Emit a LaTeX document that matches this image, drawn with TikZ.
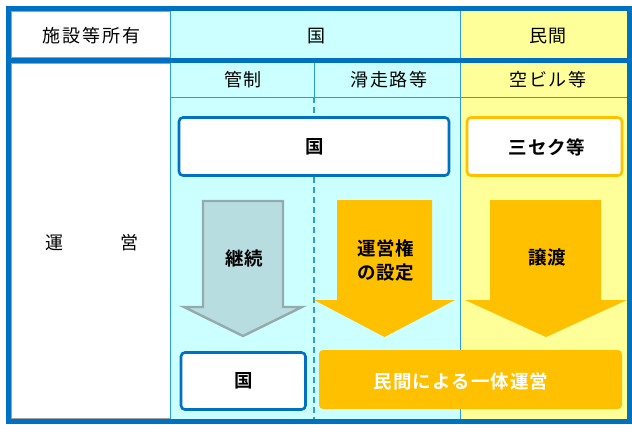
\documentclass[tikz,border=0pt]{standalone}
\usepackage{fontspec}
\setmainfont{Noto Sans CJK JP}
\newfontfamily\jpbold{Noto Sans CJK JP Bold}
\definecolor{frameblue}{HTML}{0070C0}
\definecolor{gridblue}{HTML}{2A9FD6}
\definecolor{cellcyan}{HTML}{CCFFFF}
\definecolor{cellyellow}{HTML}{FFFF99}
\definecolor{orangeF}{HTML}{FFC000}
\definecolor{grayF}{HTML}{B7DDE0}
\definecolor{grayD}{HTML}{95AAAC}
\definecolor{cellgray}{HTML}{A0A0A0}
\tikzset{
  hdr/.style={font=\fontsize{18}{20}\selectfont\addfontfeature{LetterSpace=10}, text=black, inner sep=0pt},
  bld/.style={font=\jpbold\fontsize{18.5}{24}\selectfont\addfontfeature{LetterSpace=4}, text=black, inner sep=0pt, align=center},
  bluebox/.style={draw=frameblue, line width=2.6pt, fill=white, rounded corners=4pt},
  orangebox/.style={draw=orangeF, line width=2.6pt, fill=white, rounded corners=4pt},
  gridline/.style={draw=gridblue, line width=1pt},
}
\begin{document}
\begin{tikzpicture}[x=1pt,y=-1pt]
\useasboundingbox (0,0) rectangle (632,424);
\fill[white] (0,0) rectangle (632,424);
% cell fills
\fill[cellcyan] (170,11) rectangle (460,419);
\fill[cellyellow] (460,11) rectangle (627,419);
% left column thin gray borders
\draw[cellgray, line width=0.8pt] (11.5,11.5) rectangle (170,57.5);
\draw[cellgray, line width=0.8pt] (11.5,63.5) rectangle (170,418.5);
% grid lines
\draw[gridline] (170,11) -- (170,419);
\draw[gridline] (460,11) -- (460,419);
\draw[gridline] (170,97) -- (627,97);
\draw[gridline] (314,63) -- (314,97);
\draw[gridblue, line width=1.3pt, dash pattern=on 6pt off 4pt] (314,97) -- (314,419);
% thick frame
\draw[frameblue, line width=5pt] (8.5,8.5) rectangle (629.5,421.5);
\draw[frameblue, line width=5pt] (6,60.5) -- (632,60.5);
% header texts
\node[hdr] (h1) at (91.5,36) {施設等所有};
\node[hdr] (h2) at (316,36) {国};
\node[hdr] (h3) at (548,36) {民間};
\node[hdr] (s1) at (243,80) {管制};
\node[hdr] (s2) at (389,80) {滑走路等};
\node[hdr] (s3) at (548,80) {空ビル等};
\node[hdr] (u1) at (54,243) {運};
\node[hdr] (u2) at (129,243) {営};
% top boxes
\draw[bluebox] (179,117.5) rectangle (449,175.5);
\node[bld] (kuni1) at (315,147) {国};
\draw[orangebox] (467,117.5) rectangle (622,175.5);
\node[bld] (sanseku) at (547,147) {三セク等};
% arrows
\draw[fill=grayF, draw=grayD, line width=2.4pt, line join=miter]
  (203,201) -- (283,201) -- (283,307) -- (302,307) -- (243,336) -- (184,307) -- (203,307) -- cycle;
\node[bld] (keizoku) at (244,258) {継続};
\fill[orangeF] (337,200) -- (432,200) -- (432,300) -- (455,300) -- (384.5,337) -- (314,300) -- (337,300) -- cycle;
\node[bld] (unei) at (385.5,260) {運営権\\の設定};
\fill[orangeF] (490,200) -- (601,200) -- (601,300) -- (627,300) -- (546,337) -- (465,300) -- (490,300) -- cycle;
\node[bld] (joto) at (547,257) {譲渡};
% bottom boxes
\draw[bluebox] (181,352.5) rectangle (305.5,409.5);
\node[bld] (kuni2) at (244,381) {国};
\fill[orangeF, rounded corners=4pt] (319,350) rectangle (622,409);
\node[bld, text=white, font=\jpbold\fontsize{18.5}{24}\selectfont\addfontfeature{LetterSpace=6}] (ittai) at (461,381) {民間による一体運営};
\end{tikzpicture}
\end{document}
